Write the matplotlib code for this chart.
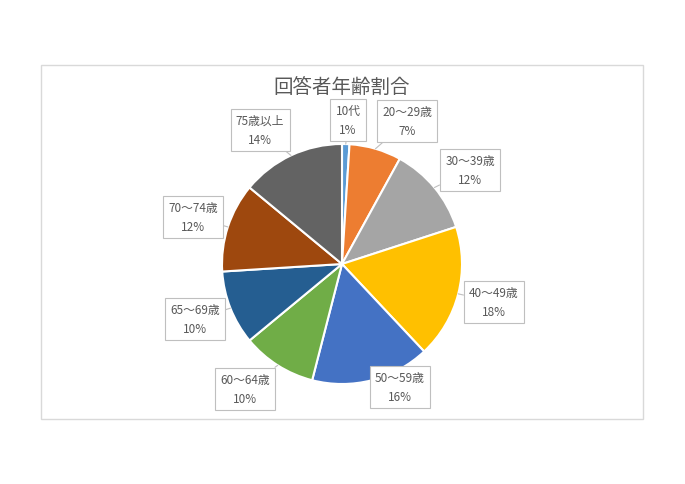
import matplotlib
import matplotlib.pyplot as plt
import numpy as np
from matplotlib.patches import Rectangle

plt.switch_backend("agg")
plt.rcParams["font.family"] = ["Noto Sans CJK JP", "DejaVu Sans"]

TITLE = "回答者年齢割合"
CATEGORIES = ["10代", "20～29歳", "30～39歳", "40～49歳", "50～59歳",
              "60～64歳", "65～69歳", "70～74歳", "75歳以上"]
SHARES = [1, 7, 12, 18, 16, 10, 10, 12, 14]
COLORS = ["#5B9BD5", "#ED7D31", "#A5A5A5", "#FFC000", "#4472C4",
          "#70AD47", "#255E91", "#9E480E", "#636363"]
# label box centres in pixel coordinates (from top-left)
LABEL_POS = [(348, 121), (407, 122), (470, 171), (494, 303), (400, 388),
             (245, 390), (195, 320), (193, 218), (260, 131)]

W, H = 685, 485
CX, CY, R = 342, 265, 120

fig = plt.figure(figsize=(W / 100, H / 100), dpi=100)
ax = fig.add_axes([0, 0, 1, 1])

wedges, _ = ax.pie(SHARES, colors=COLORS, startangle=90, counterclock=False,
                   center=(CX, H - CY), radius=R,
                   wedgeprops={"edgecolor": "white", "linewidth": 1.5})

ax.set_xlim(0, W)
ax.set_ylim(0, H)
ax.set_aspect("equal")
ax.axis("off")

# chart area frame
ax.add_patch(Rectangle((41, H - 420), 602, 354, fill=False,
                       ec="#D9D9D9", lw=1.0))

ax.text(CX, H - 87, TITLE, ha="center", va="center", fontsize=14,
        color="#595959")

for w, cat, pct, (lx, ly) in zip(wedges, CATEGORIES, SHARES, LABEL_POS):
    mid = np.deg2rad((w.theta1 + w.theta2) / 2)
    px = CX + R * np.cos(mid)
    py = H - CY + R * np.sin(mid)
    ax.annotate(f"{cat}\n{pct}%", xy=(px, py), xytext=(lx, H - ly),
                ha="center", va="center", fontsize=8.5, color="#595959",
                linespacing=1.6,
                bbox=dict(boxstyle="square,pad=0.45", fc="white",
                          ec="#BFBFBF", lw=0.8),
                arrowprops=dict(arrowstyle="-", color="#BFBFBF", lw=0.8,
                                shrinkA=0, shrinkB=0))

fig.savefig("out.png", dpi=100)
